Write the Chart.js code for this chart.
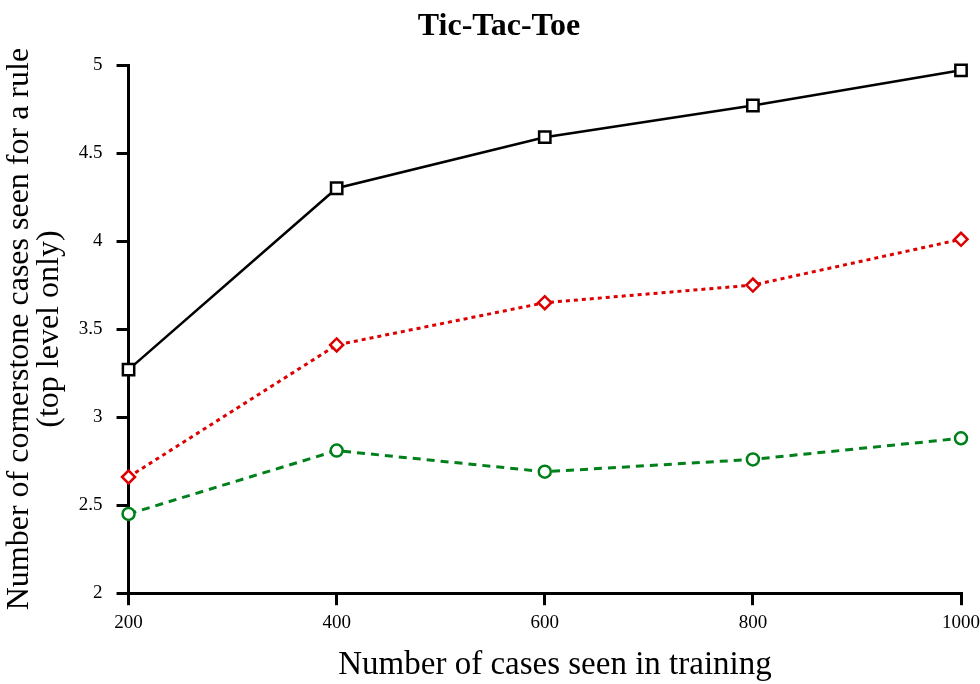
<!DOCTYPE html>
<html>
<head>
<meta charset="utf-8">
<script src="https://cdn.jsdelivr.net/npm/chart.js@4/dist/chart.umd.min.js"></script>
<style>
  html, body { margin: 0; padding: 0; background: #fff; }
  #wrap { width: 980px; height: 684px; }
</style>
</head>
<body>
<div id="wrap"><canvas id="chart" width="980" height="684"></canvas></div>
<script>
// 数据
const trainingCases = [200, 400, 600, 800, 1000];
const seriesBlack = [3.27, 4.30, 4.59, 4.77, 4.97];
const seriesRed = [2.66, 3.41, 3.65, 3.75, 4.01];
const seriesGreen = [2.45, 2.81, 2.69, 2.76, 2.88];
const yTicks = [2, 2.5, 3, 3.5, 4, 4.5, 5];
const chartTitle = 'Tic-Tac-Toe';
const xTitle = 'Number of cases seen in training';

const serif = "'Liberation Serif', 'Times New Roman', serif";

function toPoints(values) {
  return trainingCases.map((x, i) => ({ x: x, y: values[i] }));
}

// 标题和 x 轴标题在参考图中略偏右，手动绘制
const titlePlugin = {
  id: 'offsetTitles',
  afterDraw(chart) {
    const c = chart.ctx;
    c.save();
    c.fillStyle = '#000';
    c.textAlign = 'center';
    c.font = 'bold 32px ' + serif;
    c.textBaseline = 'middle';
    c.fillText(chartTitle, 499, 27);
    c.font = '33px ' + serif;
    c.textBaseline = 'alphabetic';
    c.fillText(xTitle, 555, 674);
    c.restore();
  }
};

const ctx = document.getElementById('chart').getContext('2d');

new Chart(ctx, {
  type: 'line',
  data: {
    datasets: [{
      data: toPoints(seriesBlack),
      borderColor: '#000',
      borderWidth: 2.5,
      pointStyle: 'rect',
      pointRadius: 8,
      pointBorderWidth: 2.5,
      pointBackgroundColor: '#fff',
      pointBorderColor: '#000'
    }, {
      data: toPoints(seriesRed),
      borderColor: '#dd0000',
      borderWidth: 3,
      borderDash: [4, 4],
      pointStyle: 'rectRot',
      pointRadius: 6.5,
      pointBorderWidth: 2.5,
      pointBackgroundColor: '#fff',
      pointBorderColor: '#dd0000'
    }, {
      data: toPoints(seriesGreen),
      borderColor: '#00801a',
      borderWidth: 3,
      borderDash: [8, 6],
      pointStyle: 'circle',
      pointRadius: 6,
      pointBorderWidth: 2.5,
      pointBackgroundColor: '#fff',
      pointBorderColor: '#00801a'
    }]
  },
  options: {
    responsive: false,
    animation: false,
    clip: false,
    layout: { padding: { left: 4, right: 19, top: 65, bottom: 44 } },
    scales: {
      x: {
        type: 'linear',
        min: 200,
        max: 1000,
        afterBuildTicks: axis => { axis.ticks = trainingCases.map(v => ({ value: v })); },
        afterFit: axis => { axis.paddingRight = 0; },
        border: { display: true, color: '#000', width: 3 },
        grid: { drawOnChartArea: false, drawTicks: true, tickLength: 12, color: '#000', lineWidth: 3 },
        ticks: {
          color: '#000',
          font: { family: serif, size: 19 },
          padding: 6,
          maxRotation: 0,
          callback: v => String(v)
        },
        title: { display: false }
      },
      y: {
        min: 2,
        max: 5,
        afterBuildTicks: axis => { axis.ticks = yTicks.map(v => ({ value: v })); },
        border: { display: true, color: '#000', width: 3 },
        grid: { drawOnChartArea: false, drawTicks: true, tickLength: 12, color: '#000', lineWidth: 3 },
        ticks: {
          color: '#000',
          font: { family: serif, size: 19 },
          padding: 14,
          callback: v => String(v)
        },
        title: {
          display: true,
          text: ['Number of cornerstone cases seen for a rule', '(top level only)'],
          color: '#000',
          font: { family: serif, size: 32, lineHeight: 0.95 },
          padding: { top: 0, bottom: 0 }
        }
      }
    },
    plugins: {
      legend: { display: false },
      tooltip: { enabled: false },
      title: { display: false }
    }
  },
  plugins: [titlePlugin]
});
</script>
</body>
</html>
